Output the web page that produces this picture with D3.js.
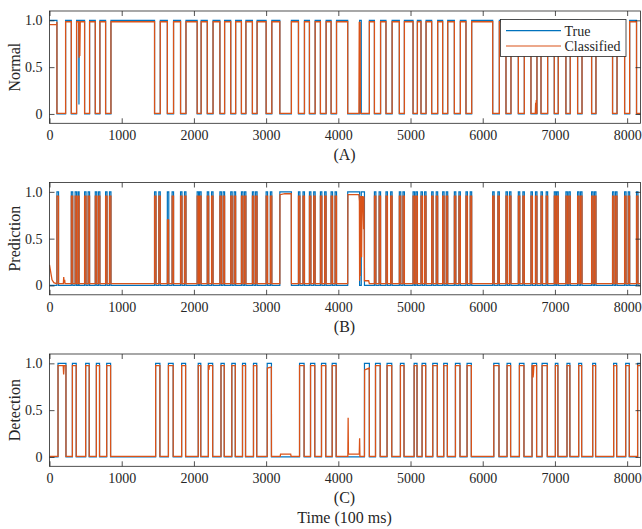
<!DOCTYPE html>
<html><head><meta charset="utf-8">
<script src="https://cdn.jsdelivr.net/npm/d3@7"></script>
<style>body{margin:0;background:#fff}svg{display:block}text{font-family:'Liberation Serif','Times New Roman',serif}</style>
</head><body>
<svg id="c" width="642" height="529"></svg>
<script>
// ---------------- data ----------------
const xTicks = [0,1000,2000,3000,4000,5000,6000,7000,8000];
const yTicks = [0,0.5,1];
const yTickLabels = ["0","0.5","1.0"];
const panelNames = ["Normal","Prediction","Detection"];
const panelTags = ["(A)","(B)","(C)"];
const xLabel = "Time (100 ms)";
const legendLabels = ["True","Classified"];
const xMax = 8185;

// intervals where Normal (true) is 0
const normalLow = [
[103,223],[302,375],[486,555],[634,698],[777,851],
[1455,1534],[1632,1718],[1815,1890],[2045,2100],[2185,2265],[2360,2425],[2510,2578],[2658,2720],[2810,2875],
[3000,3079],[3190,3350],[3448,3531],[3600,3679],[3752,3831],[3900,3975],
[4130,4295],[4318,4430],[4500,4585],[4660,4745],[4845,4915],[5035,5095],[5145,5215],[5293,5376],[5445,5515],[5607,5690],[5768,5847],
[6138,6230],[6322,6391],[6493,6576],[6668,6751],[6807,6899],[6991,7046],[7152,7212],[7314,7375],[7508,7568],[7798,7860],[7965,8035],[8130,8185]];

// intervals where Prediction (true) is 1
const predHigh = [
[103,125],[302,322],[355,375],[396,410],[486,506],[535,555],[634,654],[678,698],[777,797],[831,851],
[1455,1475],[1514,1534],[1632,1652],[1698,1718],[1815,1835],[1870,1890],[2045,2065],[2080,2100],[2185,2205],[2245,2265],[2360,2380],[2405,2425],[2510,2530],[2558,2578],[2658,2678],[2700,2720],[2810,2830],[2855,2875],
[3000,3020],[3059,3079],[3190,3350],[3448,3468],[3511,3531],[3600,3620],[3659,3679],[3752,3772],[3811,3831],[3900,3920],[3955,3975],
[4130,4295],[4318,4362],[4500,4520],[4565,4585],[4660,4680],[4725,4745],[4845,4865],[4895,4915],[5035,5055],[5075,5095],[5145,5165],[5195,5215],[5293,5313],[5356,5376],[5445,5465],[5495,5515],[5607,5627],[5670,5690],[5768,5788],[5827,5847],
[6138,6158],[6210,6230],[6322,6342],[6371,6391],[6493,6513],[6556,6576],[6668,6688],[6731,6751],[6807,6827],[6879,6899],[6991,7011],[7026,7046],[7152,7172],[7192,7212],[7314,7334],[7355,7375],[7508,7528],[7548,7568],[7798,7818],[7840,7860],[7965,7985],[8015,8035],[8130,8150]];

// intervals where Detection (true) is 1
const detHigh = [
[118,228],[317,370],[501,550],[649,693],[792,846],
[1470,1529],[1647,1713],[1830,1885],[2060,2095],[2200,2260],[2375,2420],[2525,2573],[2673,2715],[2825,2870],
[3015,3074],[3463,3526],[3615,3674],[3767,3826],[3915,3970],
[4362,4430],[4515,4580],[4675,4740],[4860,4910],[5050,5090],[5160,5210],[5308,5371],[5460,5510],[5622,5685],[5783,5842],
[6153,6225],[6337,6386],[6508,6571],[6683,6746],[6822,6894],[7006,7041],[7167,7207],[7329,7370],[7523,7563],[7813,7855],[7980,8030],[8145,8185]];

// classifier output levels (high, low) per panel
const classHigh = [0.985, 0.955, 0.975];
const classLow  = [0.005, 0.02, 0.005];

// local deviations: [time, value] polylines
const trueOverridesA = [ [[404,1],[408,0.1],[412,1]] ];
const classOverridesA = [
  [[0,0.955],[100,0.955]],
  [[404,0.985],[410,0.6],[414,0.985],[420,0.62],[426,0.985]],
  [[4285,0.005],[4290,0.985],[4293,0.3],[4296,0.985],[4299,0.4],[4302,0.985],[4306,0.005],[4318,0.005]],
  [[6728,0.005],[6733,0.12],[6738,0.04],[6742,0.15],[6746,0.005]]
];
const classOverridesB = [
  [[0,0.22],[15,0.15],[35,0.06],[60,0.03],[95,0.02]],
  [[192,0.02],[197,0.09],[202,0.03],[210,0.06],[215,0.02]],
  [[1632,0.02],[1634,0.7],[1650,0.7],[1652,0.02]],
  [[3190,0.02],[3192,0.97],[3260,0.98],[3348,0.98],[3350,0.02]],
  [[4130,0.02],[4133,0.97],[4285,0.97],[4292,0.9],[4295,0.05],[4300,0.9],[4304,0.1],[4310,0.95],[4318,0.95],[4322,0.3],[4328,0.95],[4340,0.95],[4350,0.6],[4356,0.95],[4362,0.05],[4420,0.05],[4430,0.02]]
];
const classOverridesC = [
  [[190,0.975],[196,0.88],[203,0.975]],
  [[2203,0.975],[2208,0.93],[2214,0.975]],
  [[3015,0.005],[3017,0.95],[3072,0.96],[3074,0.005]],
  [[3195,0.005],[3200,0.03],[3340,0.03],[3346,0.005]],
  [[4132,0.005],[4136,0.42],[4140,0.03],[4290,0.03],[4295,0.2],[4299,0.005]],
  [[4362,0.005],[4364,0.93],[4428,0.95],[4430,0.005]],
  [[6690,0.975],[6697,0.85],[6703,0.9],[6708,0.975]]
];

// ---------------- build series ----------------
function steps(intervals, inVal, outVal){
  const pts=[[0,outVal]];
  intervals.forEach(([s,e])=>{pts.push([s,outVal],[s,inVal],[e,inVal]); if(e<xMax) pts.push([e,outVal]);});
  const last=intervals[intervals.length-1];
  pts.push([xMax, last[1]>=xMax?inVal:outVal]);
  return pts;
}
function applyOverrides(pts, overrides){
  overrides.forEach(poly=>{
    const t0=poly[0][0], t1=poly[poly.length-1][0];
    pts=pts.filter(p=>p[0]<t0||p[0]>t1);
    let idx=pts.findIndex(p=>p[0]>t1); if(idx<0) idx=pts.length;
    pts.splice(idx,0,...poly);
  });
  return pts;
}
const series = [
  { t: applyOverrides(steps(normalLow,0,1), trueOverridesA),
    c: applyOverrides(steps(normalLow,classLow[0],classHigh[0]), classOverridesA) },
  { t: steps(predHigh,1,0),
    c: applyOverrides(steps(predHigh,classHigh[1],classLow[1]), classOverridesB) },
  { t: steps(detHigh,1,0),
    c: applyOverrides(steps(detHigh,classHigh[2],classLow[2]), classOverridesC) }
];

// ---------------- draw ----------------
const svg=d3.select("#c");
const FONT="'Liberation Serif','Times New Roman',serif";
const AX="#262626";
const BLUE="#0072BD", RED="#D95319";
const xLeft=49.5, xRight=640.5;
const panelTop=[11,182.5,354], panelH=112.3;
const x=d3.scaleLinear().domain([0,xMax]).range([xLeft,xRight]);

panelTop.forEach((top,i)=>{
  const bottom=top+panelH;
  const y=d3.scaleLinear().domain([-0.1,1.1]).range([bottom,top]);
  const g=svg.append("g");
  g.append("clipPath").attr("id","clip"+i).append("rect")
    .attr("x",xLeft).attr("y",top).attr("width",xRight-xLeft).attr("height",panelH);
  const line=d3.line().x(d=>x(d[0])).y(d=>y(d[1]));
  const lg=g.append("g").attr("clip-path","url(#clip"+i+")");
  lg.append("path").attr("d",line(series[i].t)).attr("fill","none").attr("stroke",BLUE).attr("stroke-width",1.2);
  lg.append("path").attr("d",line(series[i].c)).attr("fill","none").attr("stroke",RED).attr("stroke-width",1.3);

  const styleAxis=(sel)=>{sel.attr("font-family",FONT).attr("font-size",14);
    sel.select(".domain").remove();
    sel.selectAll(".tick line").attr("stroke",AX).attr("stroke-width",0.8);
    sel.selectAll("text").attr("fill",AX).attr("font-family",FONT).style("font-family",FONT).style("font-size","14px");};
  g.append("g").attr("transform",`translate(0,${bottom})`)
    .call(d3.axisBottom(x).tickValues(xTicks).tickSize(-5).tickPadding(7).tickFormat(d3.format("d")))
    .call(styleAxis);
  g.append("g").attr("transform",`translate(0,${top})`)
    .call(d3.axisTop(x).tickValues(xTicks).tickSize(-5).tickFormat(""))
    .call(styleAxis);
  g.append("g").attr("transform",`translate(${xLeft},0)`)
    .call(d3.axisLeft(y).tickValues(yTicks).tickSize(-5).tickPadding(7).tickFormat((d,k)=>yTickLabels[k]))
    .call(styleAxis);
  g.append("g").attr("transform",`translate(${xRight},0)`)
    .call(d3.axisRight(y).tickValues(yTicks).tickSize(-5).tickFormat(""))
    .call(styleAxis);
  g.append("rect").attr("x",xLeft).attr("y",top).attr("width",xRight-xLeft).attr("height",panelH)
    .attr("fill","none").attr("stroke",AX).attr("stroke-width",0.8);

  g.append("text").attr("transform",`translate(20,${(top+bottom)/2}) rotate(-90)`)
    .attr("text-anchor","middle").style("font-family",FONT).style("font-size","16px").attr("fill",AX)
    .text(panelNames[i]);
  g.append("text").attr("x",(xLeft+xRight)/2-0.5).attr("y",bottom+37)
    .attr("text-anchor","middle").style("font-family",FONT).style("font-size","16px").attr("fill",AX)
    .text(panelTags[i]);
});

svg.append("text").attr("x",(xLeft+xRight)/2-0.5).attr("y",523)
  .attr("text-anchor","middle").style("font-family",FONT).style("font-size","16px").attr("fill",AX)
  .text(xLabel);

// legend
const lgd=svg.append("g");
lgd.append("rect").attr("x",500.5).attr("y",19.5).attr("width",125.5).attr("height",37)
  .attr("fill","#fff").attr("stroke",AX).attr("stroke-width",0.8);
[BLUE,RED].forEach((col,k)=>{
  const yy=30.7+k*15.3;
  lgd.append("line").attr("x1",506).attr("x2",561).attr("y1",yy).attr("y2",yy).attr("stroke",col).attr("stroke-width",1.2);
  lgd.append("text").attr("x",564.5).attr("y",yy+4.8).style("font-family",FONT).style("font-size","14px").attr("fill",AX)
    .text(legendLabels[k]);
});
</script>
</body></html>
